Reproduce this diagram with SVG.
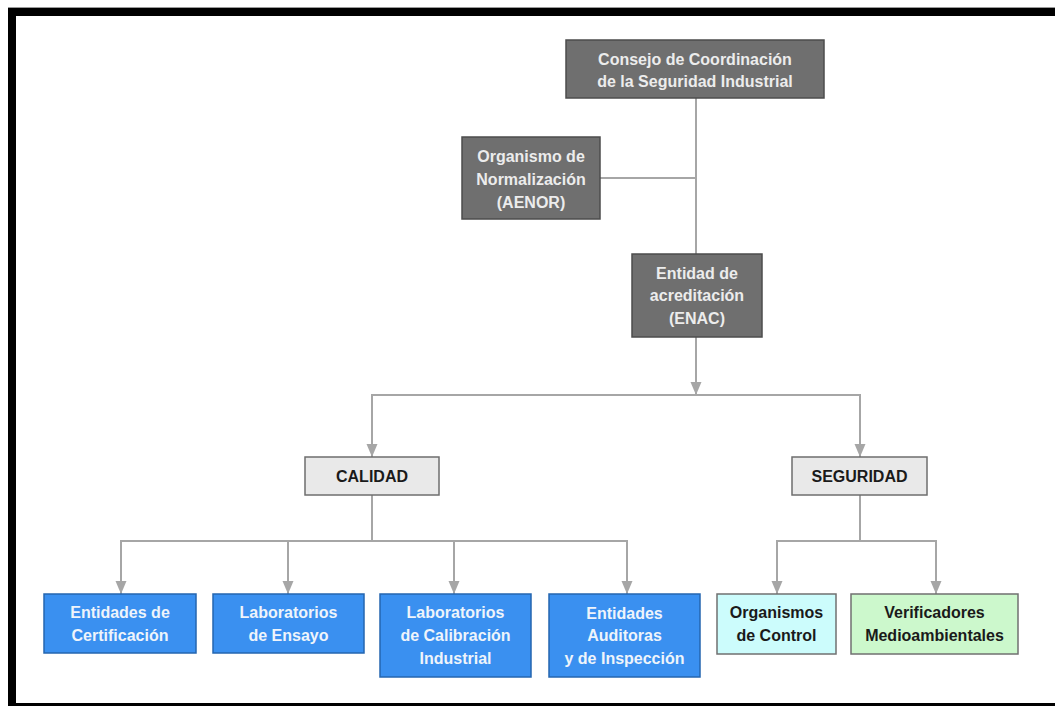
<svg xmlns="http://www.w3.org/2000/svg" width="1055" height="706" viewBox="0 0 1055 706">
<style>
.t{font-family:"Liberation Sans",Arial,sans-serif;font-weight:bold;font-size:16px;text-anchor:middle}
.dk rect{fill:#6f6f6f;stroke:#4c4c4c;stroke-width:1.5}
.dk text{fill:#ececec}
.lg rect{fill:#e9e9e9;stroke:#6e6e6e;stroke-width:1.5}
.lg text{fill:#1a1a1a}
.bl rect{fill:#3a90f0;stroke:#2466b0;stroke-width:1.5}
.bl text{fill:#eef4fb}
.cy rect{fill:#ccfcfc;stroke:#707070;stroke-width:1.5}
.gr rect{fill:#ccf8cc;stroke:#707070;stroke-width:1.5}
.cy text,.gr text{fill:#1a1a1a}
.c{fill:none;stroke:#a6a6a6;stroke-width:2}
</style>
<defs>
<marker id="ah" markerWidth="11" markerHeight="13" refX="5.5" refY="13" orient="auto-start-reverse" markerUnits="userSpaceOnUse" viewBox="0 0 11 13">
<path d="M0,0 L11,0 L5.5,13 Z" fill="#a6a6a6" transform="rotate(0)"/>
</marker>
</defs>
<rect x="0" y="0" width="1055" height="706" fill="#ffffff"/>
<rect x="12" y="12" width="1060" height="695" fill="none" stroke="#000000" stroke-width="8"/>
<line x1="8" y1="7.5" x2="1055" y2="7.5" stroke="#9a9a9a" stroke-width="1"/>

<g id="connectors">
<path class="c" d="M696,98 V254"/>
<path class="c" d="M600,178 H696"/>
<path class="c" d="M696,337 V395"/>
<path d="M690.5,382 L701.5,382 L696,395 Z" fill="#a6a6a6"/>
<path class="c" d="M372,457 V395 H860 V457"/>
<path d="M366.5,444 L377.5,444 L372,457 Z" fill="#a6a6a6"/>
<path d="M854.5,444 L865.5,444 L860,457 Z" fill="#a6a6a6"/>
<path class="c" d="M372,495 V541"/>
<path class="c" d="M121,594 V541 H627 V594"/>
<path class="c" d="M288,541 V594"/>
<path class="c" d="M454,541 V594"/>
<path d="M115.5,581 L126.5,581 L121,594 Z" fill="#a6a6a6"/>
<path d="M282.5,581 L293.5,581 L288,594 Z" fill="#a6a6a6"/>
<path d="M448.5,581 L459.5,581 L454,594 Z" fill="#a6a6a6"/>
<path d="M621.5,581 L632.5,581 L627,594 Z" fill="#a6a6a6"/>
<path class="c" d="M860,495 V541"/>
<path class="c" d="M777,594 V541 H936 V594"/>
<path d="M771.5,581 L782.5,581 L777,594 Z" fill="#a6a6a6"/>
<path d="M930.5,581 L941.5,581 L936,594 Z" fill="#a6a6a6"/>
</g>

<g id="consejo" class="dk">
<rect x="566" y="40" width="258" height="58"/>
<text class="t" x="695" y="65">Consejo de Coordinación</text>
<text class="t" x="695" y="87">de la Seguridad Industrial</text>
</g>
<g id="aenor" class="dk">
<rect x="462" y="137" width="138" height="82"/>
<text class="t" x="531" y="162">Organismo de</text>
<text class="t" x="531" y="185">Normalización</text>
<text class="t" x="531" y="208">(AENOR)</text>
</g>
<g id="enac" class="dk">
<rect x="632" y="254" width="130" height="83"/>
<text class="t" x="697" y="279">Entidad de</text>
<text class="t" x="697" y="301">acreditación</text>
<text class="t" x="697" y="324">(ENAC)</text>
</g>
<g id="calidad" class="lg">
<rect x="305" y="457" width="134" height="38"/>
<text class="t" x="372" y="482">CALIDAD</text>
</g>
<g id="seguridad" class="lg">
<rect x="792" y="457" width="135" height="38"/>
<text class="t" x="859.5" y="482">SEGURIDAD</text>
</g>
<g id="certificacion" class="bl">
<rect x="44" y="594" width="152" height="59"/>
<text class="t" x="120" y="618">Entidades de</text>
<text class="t" x="120" y="641">Certificación</text>
</g>
<g id="ensayo" class="bl">
<rect x="213" y="594" width="151" height="59"/>
<text class="t" x="288.5" y="618">Laboratorios</text>
<text class="t" x="288.5" y="641">de Ensayo</text>
</g>
<g id="calibracion" class="bl">
<rect x="380" y="594" width="151" height="83"/>
<text class="t" x="455.5" y="618">Laboratorios</text>
<text class="t" x="455.5" y="641">de Calibración</text>
<text class="t" x="455.5" y="664">Industrial</text>
</g>
<g id="auditoras" class="bl">
<rect x="549" y="594" width="151" height="83"/>
<text class="t" x="624.5" y="619">Entidades</text>
<text class="t" x="624.5" y="641">Auditoras</text>
<text class="t" x="624.5" y="664">y de Inspección</text>
</g>
<g id="control" class="cy">
<rect x="717" y="594" width="119" height="60"/>
<text class="t" x="776.5" y="618">Organismos</text>
<text class="t" x="776.5" y="641">de Control</text>
</g>
<g id="verificadores" class="gr">
<rect x="851" y="594" width="167" height="60"/>
<text class="t" x="934.5" y="618">Verificadores</text>
<text class="t" x="934.5" y="641">Medioambientales</text>
</g>
</svg>
